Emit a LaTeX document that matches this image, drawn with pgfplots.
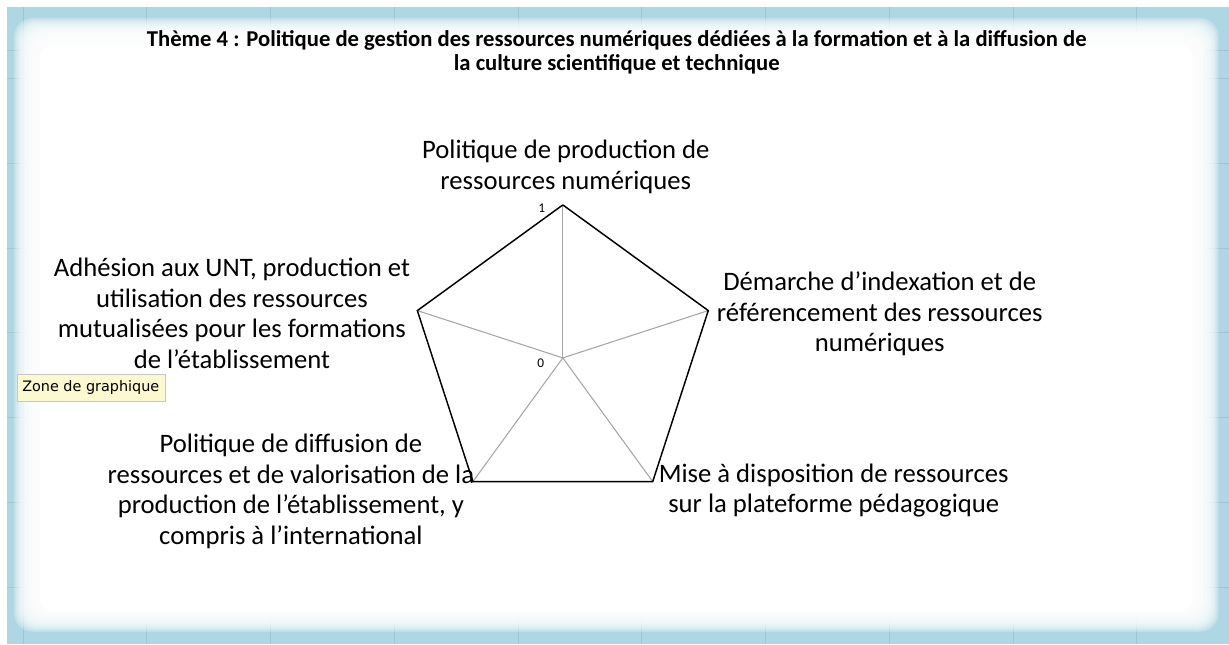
\documentclass[border=0pt]{standalone}
\usepackage{fontspec}
\setmainfont{Carlito}
\newfontfamily\tipfont{DejaVu Sans}
\usepackage{pgfplots}
\usepgfplotslibrary{polar}
\pgfplotsset{compat=1.18}
\definecolor{framebg}{HTML}{AED6E3}
\definecolor{framegrid}{HTML}{9CC6D4}
\definecolor{spoke}{HTML}{A6A6A6}
\definecolor{tipbg}{HTML}{FCF8CF}
\begin{document}
\begin{tikzpicture}[x=0.75pt,y=0.75pt]
% page and spreadsheet frame (1 unit = 1 px, y measured from the bottom)
\fill[white] (0,0) rectangle (1229,644);
\fill[framebg] (7,0) rectangle (1229,637);
\foreach \gx in {23,146.8,270.6,394.4,518.2,642,765.8,889.6,1013.4,1137.2}
  \draw[framegrid,line width=0.6pt] (\gx,0) -- (\gx,637);
\foreach \gy in {594,566,481,396,311,226,141,56}
  \draw[framegrid,line width=0.6pt] (7,\gy) -- (1229,\gy);
% soft white chart area
\foreach \i in {0,...,13}{
  \pgfmathsetmacro\ins{\i*1.9}
  \fill[white,fill opacity=0.28,rounded corners=14]
    (14+\ins,12+\ins) rectangle (1219-\ins,626-\ins);
}
\fill[white,rounded corners=10] (40,32) rectangle (1193,599);

\begin{polaraxis}[
  hide axis,
  ymin=0, ymax=1,
  width=229.5pt, height=229.5pt,
  scale only axis,
  clip=false,
  anchor=center,
  at={(422.25pt,214.5pt)},
]
\addplot[spoke,line width=0.8pt] coordinates {(90,0) (90,1)};
\addplot[spoke,line width=0.8pt] coordinates {(18,0) (18,1)};
\addplot[spoke,line width=0.8pt] coordinates {(-54,0) (-54,1)};
\addplot[spoke,line width=0.8pt] coordinates {(-126,0) (-126,1)};
\addplot[spoke,line width=0.8pt] coordinates {(162,0) (162,1)};
\addplot[black,line width=1.1pt] coordinates
  {(90,1) (18,1) (-54,1) (-126,1) (162,1) (90,1)};
\end{polaraxis}

% scale labels
\node[font=\fontsize{10}{11}\selectfont,inner sep=0] at (542,436) {1};
\node[font=\fontsize{10}{11}\selectfont,inner sep=0] at (541,281) {0};

% title
\node[align=center,font=\fontsize{17}{18}\selectfont\bfseries,inner sep=0] at (617,592)
  {Thème 4 : Politique de gestion des ressources numériques dédiées à la formation et à la diffusion de\\
   la culture scientifique et technique};

% category labels
\tikzset{cat/.style={align=center,font=\fontsize{20}{22.8}\selectfont,inner sep=0}}
\node[cat] at (566,477) {Politique de production de\\ressources numériques};
\node[cat] at (880,330) {Démarche d’indexation et de\\référencement des ressources\\numériques};
\node[cat] at (834,153) {Mise à disposition de ressources\\sur la plateforme pédagogique};
\node[cat] at (291,152.5) {Politique de diffusion de\\ressources et de valorisation de la\\production de l’établissement, y\\compris à l’international};
\node[cat] at (232,330.5) {Adhésion aux UNT, production et\\utilisation des ressources\\mutualisées pour les formations\\de l’établissement};

% tooltip
\draw[gray!45,fill=tipbg] (17,243) rectangle (165,270);
\node[font=\tipfont\fontsize{10.8}{12}\selectfont,anchor=west,inner sep=0] at (22,256.5) {Zone de graphique};
\end{tikzpicture}
\end{document}
